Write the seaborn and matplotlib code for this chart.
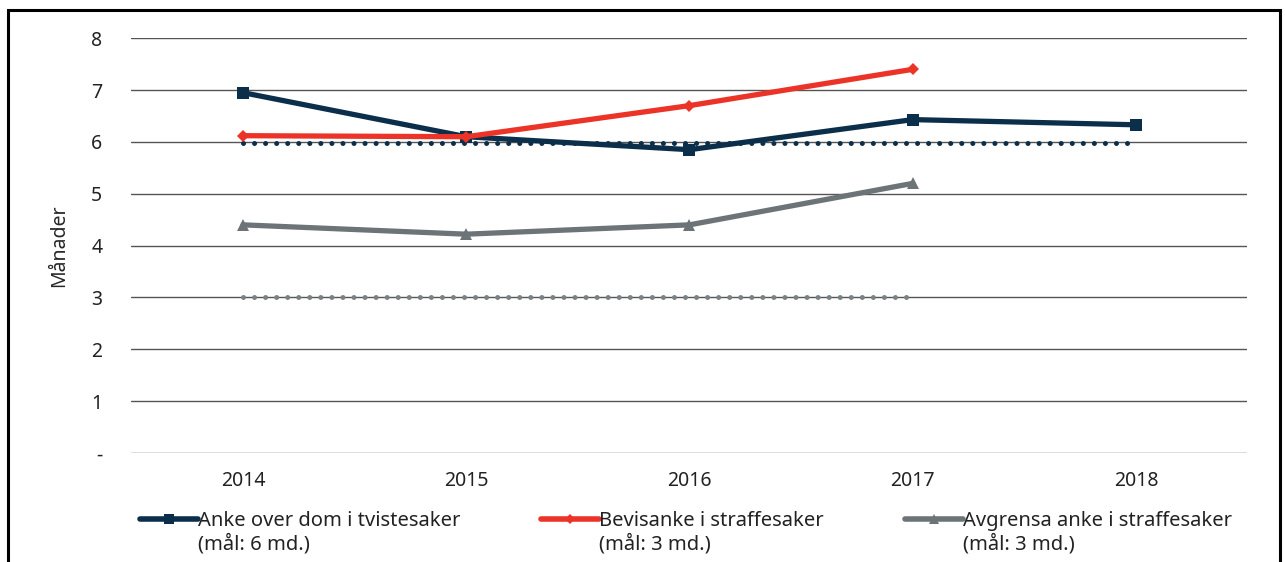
import matplotlib
matplotlib.use("Agg")
import matplotlib.pyplot as plt
from matplotlib.lines import Line2D
from matplotlib.patches import Rectangle
import numpy as np
import pandas as pd
import seaborn as sns

# data
years = ["2014", "2015", "2016", "2017", "2018"]
anke_tvist = [6.95, 6.1, 5.85, 6.43, 6.33]
bevisanke = [6.12, 6.1, 6.7, 7.4]
avgrensa = [4.4, 4.22, 4.4, 5.2]
maal_tvist = [5.97, 5.97, 5.97, 5.97, 5.97]
maal_straff = [3, 3, 3, 3]

labels = [("Anke over dom i tvistesaker", "(mål: 6 md.)"),
          ("Bevisanke i straffesaker", "(mål: 3 md.)"),
          ("Avgrensa anke i straffesaker", "(mål: 3 md.)")]

NAVY = "#0b2e4a"
RED = "#ec3327"
GREY = "#6c7478"

sns.set_style("white")
plt.rcParams["font.family"] = ["Noto Sans", "DejaVu Sans"]
plt.rcParams["text.color"] = "#222222"

fig = plt.figure(figsize=(12.85, 5.62), dpi=100)
ax = fig.add_axes([0.1023, 0.194, 0.8685, 0.738])

x = np.arange(len(years))

# malsetjingar (dotted)
dot = (0, (0.01, 2.2))
sns.lineplot(x=x[:len(maal_tvist)], y=maal_tvist, ax=ax, color=NAVY, lw=3.6,
             linestyle=dot, dash_capstyle="round", zorder=3)
sns.lineplot(x=x[:len(maal_straff)], y=maal_straff, ax=ax, color="#7a8286", lw=3.6,
             linestyle=dot, dash_capstyle="round", zorder=3)

sns.lineplot(x=x[:len(avgrensa)], y=avgrensa, ax=ax, color=GREY, lw=3.8,
             marker="^", markersize=8, markeredgewidth=0, zorder=4)
sns.lineplot(x=x[:len(anke_tvist)], y=anke_tvist, ax=ax, color=NAVY, lw=3.8,
             marker="s", markersize=8.5, markeredgewidth=0, zorder=5)
sns.lineplot(x=x[:len(bevisanke)], y=bevisanke, ax=ax, color=RED, lw=3.8,
             marker="D", markersize=6, markeredgewidth=0, zorder=6)

ax.set_xlim(-0.5, len(years) - 0.5)
ax.set_ylim(0, 8)
ax.set_xticks(x)
ax.set_xticklabels(years)
ax.set_yticks(range(0, 9))
ax.set_yticklabels(["-"] + [str(i) for i in range(1, 9)])
ax.yaxis.grid(True, color="#555555", lw=1.0)
ax.set_axisbelow(True)
for s in ax.spines.values():
    s.set_visible(False)
ax.tick_params(axis="both", length=0, labelsize=14, colors="#222222")
ax.tick_params(axis="y", pad=21)
ax.tick_params(axis="x", pad=13)
ax.set_xlabel("")
ax.set_ylabel("Månader", fontsize=14, labelpad=16)

# legends, one per series; line 2 gets an empty handle so the marker sits by line 1
handles = [
    Line2D([], [], color=NAVY, lw=4, marker="s", markersize=7, markeredgewidth=0),
    Line2D([], [], color=RED, lw=4, marker="D", markersize=5.5, markeredgewidth=0),
    Line2D([], [], color=GREY, lw=4, marker="^", markersize=7, markeredgewidth=0),
]
blank = Line2D([], [], color="none")
xpos = [140 / 1285, 541 / 1285, 905 / 1285]
for h, (l1, l2), xp in zip(handles, labels, xpos):
    fig.legend([h, blank], [l1, l2], loc="upper left", bbox_to_anchor=(xp, 0.091),
               frameon=False, fontsize=14.5, handlelength=2.9, handletextpad=0.0,
               labelspacing=0.15, borderaxespad=0, borderpad=0)

# ramme rundt figuren
fig.patches.append(Rectangle((8 / 1285, -0.05), 1272 / 1285, 1.05 - 10 / 562,
                             transform=fig.transFigure, fill=False,
                             edgecolor="black", lw=2.2))

fig.savefig("out.png", dpi=100)
